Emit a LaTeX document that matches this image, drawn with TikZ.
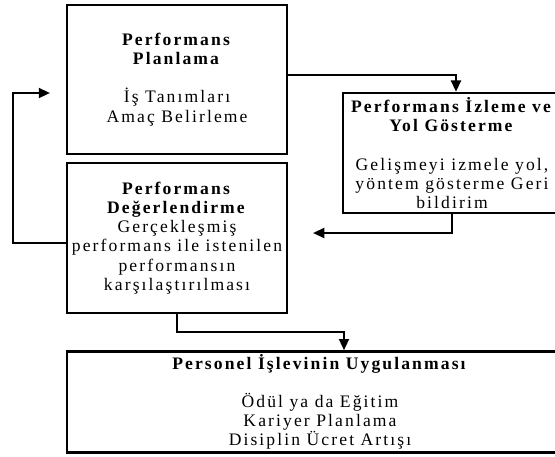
\documentclass[tikz,border=0pt]{standalone}
\usepackage{fontspec}
\setmainfont[LetterSpace=12]{Liberation Serif}
\usetikzlibrary{positioning, arrows.meta}
\tikzstyle{stage} = [rectangle, draw=black, line width=1.8pt, align=center, inner sep=2pt, font=\fontsize{12.5}{13.6}\selectfont]
\tikzstyle{arrow} = [line width=1.6pt, -{Triangle[length=8pt,width=7pt]}]

\begin{document}
\begin{tikzpicture}[x=0.025cm, y=-0.025cm]
        \useasboundingbox (0,0) rectangle (555,456);
        \clip (0,0) rectangle (555,456);

        \node (plan) [stage, minimum width=5.5cm, minimum height=3.725cm] at (177,79.5)
            {\textbf{Performans}\\ \textbf{Planlama}\\ \mbox{}\\ İş Tanımları\\ Amaç Belirleme};
        \node (izleme) [stage, minimum width=5.45cm, minimum height=3cm] at (452,153)
            {\textbf{Performans İzleme ve}\\ \textbf{Yol Gösterme}\\ \mbox{}\\ Gelişmeyi izmele yol,\\ yöntem gösterme Geri\\ bildirim};
        \node (deger) [stage, minimum width=5.5cm, minimum height=3.75cm] at (177,238)
            {\textbf{Performans}\\ \textbf{Değerlendirme}\\ Gerçekleşmiş\\ performans ile istenilen\\ performansın\\ karşılaştırılması};
        \node (uygulama) [stage, minimum width=12.65cm, minimum height=2.45cm] at (320,402)
            {\textbf{Personel İşlevinin Uygulanması}\\ \mbox{}\\ Ödül ya da Eğitim\\ Kariyer Planlama\\ Disiplin Ücret Artışı};

        \coordinate (geri) at (313,233);
        \coordinate (donus) at (50,93);

        \draw [arrow] (plan.east |- 0,75) -| (izleme.north -| 456,0);
        \draw [arrow] (izleme.south) |- (geri);
        \draw [arrow] (deger.west |- 0,243) -- (13,243) |- (donus);
        \draw [arrow] (deger.south) |- (344,332) -- (uygulama.north -| 344,0);

        \end{tikzpicture}
\end{document}
